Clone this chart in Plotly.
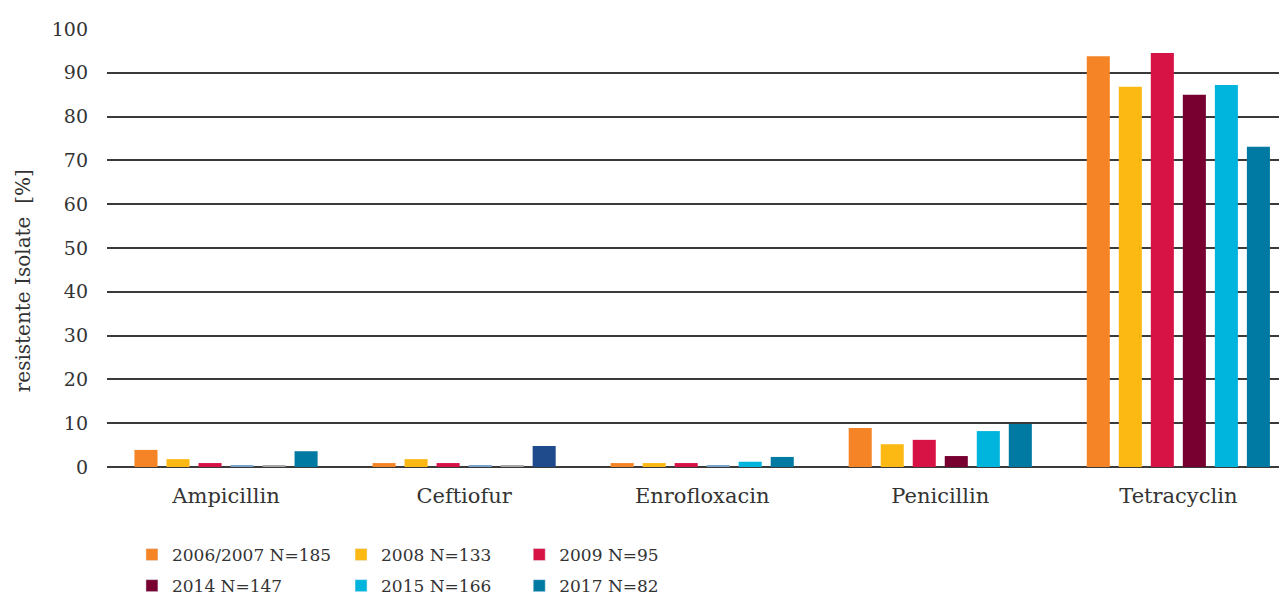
import plotly.graph_objects as go

categories = ["Ampicillin", "Ceftiofur", "Enrofloxacin", "Penicillin", "Tetracyclin"]
series_names = ["2006/2007 N=185", "2008 N=133", "2009 N=95", "2014 N=147", "2015 N=166", "2017 N=82"]

v_2006 = [3.9, 0.9, 0.9, 8.9, 93.8]
v_2008 = [1.8, 1.8, 0.9, 5.2, 86.8]
v_2009 = [0.9, 0.9, 0.9, 6.2, 94.5]
v_2014 = [0.3, 0.3, 0.3, 2.5, 85.0]
v_2015 = [0.3, 0.3, 1.2, 8.2, 87.2]
v_2017 = [3.6, 4.8, 2.3, 9.8, 73.1]

values = [v_2006, v_2008, v_2009, v_2014, v_2015, v_2017]

base_colors = ["#F58426", "#FDB913", "#D71245", "#770030", "#00B5DD", "#007AA2"]
# per-bar colours (the near-zero markers and one bar are drawn differently in the source)
bar_colors = [
    ["#F58426"] * 5,
    ["#FDB913"] * 5,
    ["#D71245"] * 5,
    ["#7BA3C9", "#7BA3C9", "#7BA3C9", "#770030", "#770030"],
    ["#A6A6A6", "#A6A6A6", "#00B5DD", "#00B5DD", "#00B5DD"],
    ["#007AA2", "#1F4B8C", "#007AA2", "#007AA2", "#007AA2"],
]
legend_ids = ["legend", "legend2", "legend3", "legend", "legend2", "legend3"]

font_family = "DejaVu Serif, Liberation Serif, serif"
text_color = "#333333"

fig = go.Figure()
for i, (name, vals, cols, lg, base) in enumerate(zip(series_names, values, bar_colors, legend_ids, base_colors)):
    fig.add_trace(
        go.Bar(
            x=categories,
            y=vals,
            name=name,
            marker={"color": cols, "line": {"width": 0}},
            offsetgroup=str(i),
            legend=lg,
            showlegend=False,
        )
    )
    # legend swatch in the series' base colour
    fig.add_trace(
        go.Bar(
            x=[categories[0]],
            y=[None],
            name=name,
            marker={"color": base},
            offsetgroup=str(i),
            legend=lg,
            legendgroup=name,
            showlegend=True,
        )
    )

legend_style = {
    "orientation": "v",
    "yanchor": "top",
    "xanchor": "left",
    "y": -0.16,
    "font": {"family": font_family, "size": 17, "color": text_color},
    "bgcolor": "rgba(0,0,0,0)",
    "traceorder": "grouped",
    "tracegroupgap": 6,
}

fig.update_layout(
    width=1287,
    height=596,
    margin={"l": 99, "r": 0, "t": 21, "b": 136},
    plot_bgcolor="#ffffff",
    paper_bgcolor="#ffffff",
    barmode="group",
    bargap=0.193,
    bargroupgap=0.28,
    font={"family": font_family, "size": 19, "color": text_color},
    legend={**legend_style, "x": 0.021},
    legend2={**legend_style, "x": 0.197},
    legend3={**legend_style, "x": 0.347},
)
# y-axis title placed as in the source (sits a bit below the axis centre)
fig.add_annotation(
    text="resistente Isolate  [%]",
    xref="paper",
    yref="paper",
    x=-0.07,
    y=0.426,
    xanchor="center",
    yanchor="middle",
    textangle=-90,
    showarrow=False,
    font={"family": font_family, "size": 20, "color": text_color},
)
fig.update_xaxes(
    range=[-0.5, 4.49],
    showgrid=False,
    showline=False,
    ticks="",
    ticklabelstandoff=14,
    tickfont={"family": font_family, "size": 21, "color": text_color},
)
fig.update_yaxes(
    range=[0, 100],
    dtick=10,
    showgrid=True,
    gridcolor="#3a3a3a",
    gridwidth=1.6,
    zeroline=True,
    zerolinecolor="#3a3a3a",
    zerolinewidth=1.6,
    ticks="",
    ticklabelstandoff=18,
    tickfont={"family": font_family, "size": 19, "color": text_color},
)

fig.write_html("out.html")
